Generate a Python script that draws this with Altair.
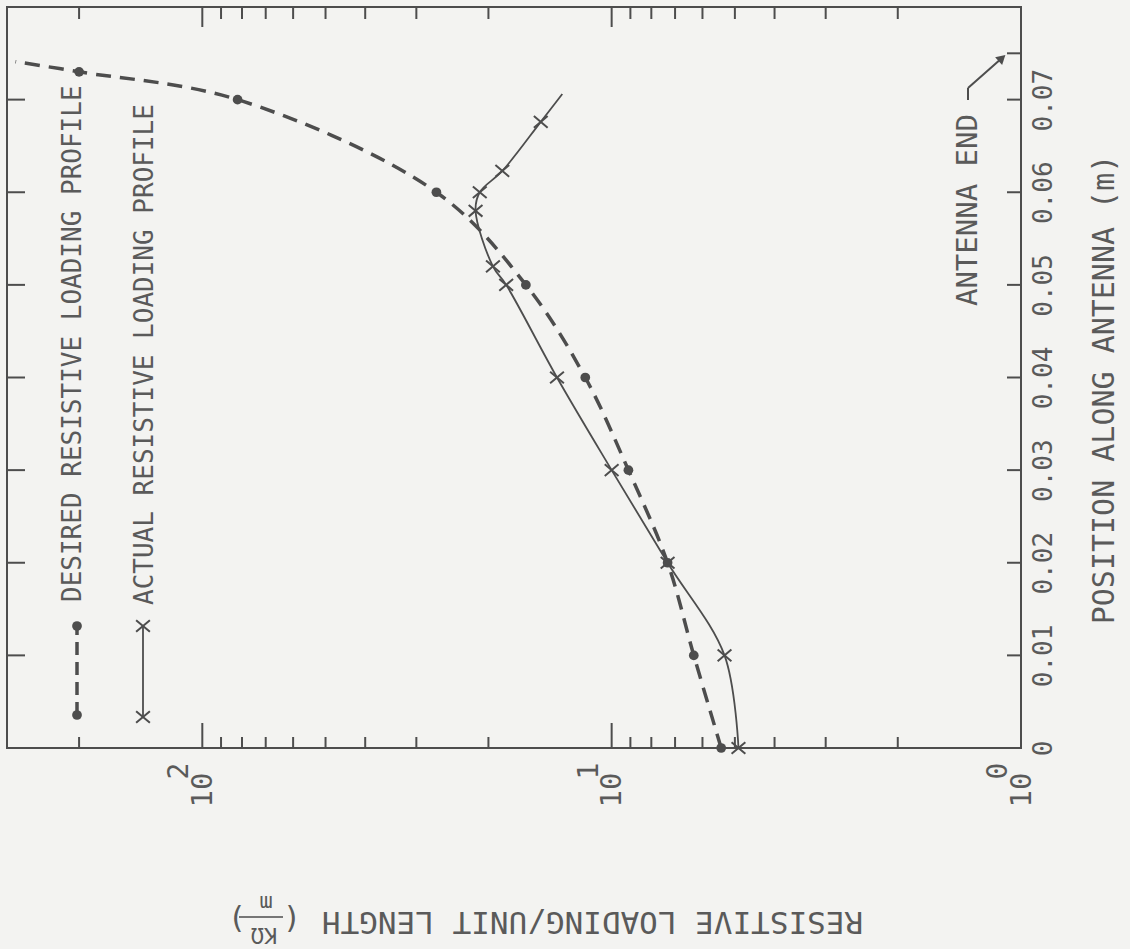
import altair as alt
import pandas as pd

INK = "#4d4d4d"
TEXT = "#5a5a5a"
FONT = "DejaVu Sans Mono"
W, H = 1014, 741  # plot area in px

# Desired resistive loading (kOhm/m) against position along the antenna (m)
desired_pos = [0.0, 0.01, 0.02, 0.03, 0.04, 0.05, 0.06, 0.07, 0.073]
desired_r = [5.4, 6.3, 7.3, 9.1, 11.6, 16.2, 26.8, 82.0, 200.0]
desired_tail_pos = [0.0741]   # dashed curve runs on to the frame
desired_tail_r = [286.0]

# Actual (measured) resistive loading
actual_pos = [0.0, 0.01, 0.02, 0.03, 0.04, 0.05, 0.052, 0.058, 0.060, 0.0623, 0.0676]
actual_r = [4.9, 5.3, 7.3, 10.0, 13.6, 18.1, 19.5, 21.5, 21.0, 18.5, 14.9]
actual_tail_pos = [0.0706]
actual_tail_r = [13.2]

# Axis ticks and labels
pos_ticks = [0.0, 0.01, 0.02, 0.03, 0.04, 0.05, 0.06, 0.07]
antenna_end = [0.075]
decades = [1, 10, 100]
decade_exponents = ["0", "1", "2"]
log_major = [10, 100]
log_minor = [2, 3, 4, 5, 6, 7, 8, 9, 20, 30, 40, 50, 60, 70, 80, 90, 200]

xs = alt.Scale(type="log", domain=[1, 300], reverse=True, nice=False)
ys = alt.Scale(domain=[0, 0.08], nice=False, zero=False)

desired = pd.DataFrame({"pos": desired_pos, "r": desired_r})
desired_curve = pd.concat([desired, pd.DataFrame({"pos": desired_tail_pos, "r": desired_tail_r})])
actual = pd.DataFrame({"pos": actual_pos, "r": actual_r})
actual_curve = pd.concat([actual, pd.DataFrame({"pos": actual_tail_pos, "r": actual_tail_r})])

x_axis = alt.Axis(
    orient="bottom", values=decades, labelExpr="'10'", labelAngle=270,
    labelAlign="right", labelBaseline="middle", labelFont=FONT, labelFontSize=29,
    labelColor=TEXT, labelPadding=24, labelFlush=False, labelOverlap=False,
    ticks=False, tickSize=0, domain=False, grid=False,
    title="RESISTIVE LOADING/UNIT LENGTH", titleAngle=180, titleX=585, titleY=172,
    titleAlign="center", titleBaseline="middle", titleFont=FONT, titleFontSize=31,
    titleFontWeight="normal", titleColor=TEXT,
)
y_axis = alt.Axis(
    orient="right", values=pos_ticks,
    labelExpr="datum.value == 0 ? '0' : format(datum.value, '.2f')",
    labelAngle=270, labelAlign="center", labelBaseline="top", labelFont=FONT,
    labelFontSize=26, labelColor=TEXT, labelPadding=9, labelFlush=False, labelOverlap=False,
    ticks=False, tickSize=0, domain=False, grid=False,
    title="POSITION ALONG ANTENNA (m)", titleAngle=270, titleX=83, titleY=382,
    titleAlign="center", titleBaseline="middle", titleFont=FONT, titleFontSize=30,
    titleFontWeight="normal", titleColor=TEXT,
)


def xq(field):
    return alt.X(f"{field}:Q", scale=xs, axis=x_axis)


def yq(field):
    return alt.Y(f"{field}:Q", scale=ys, axis=y_axis)


X_SHAPE = "M-1,-0.85L1,0.85M-1,0.85L1,-0.85"

desired_line = alt.Chart(desired_curve).mark_line(
    color=INK, strokeWidth=3.5, strokeDash=[15, 9], interpolate="catmull-rom", clip=True
).encode(x=xq("r"), y=yq("pos"), order="pos:Q")
desired_dots = alt.Chart(desired).mark_circle(color=INK, size=95, opacity=1).encode(
    x=xq("r"), y=yq("pos")
)
actual_line = alt.Chart(actual_curve).mark_line(
    color=INK, strokeWidth=1.8, interpolate="catmull-rom", clip=True
).encode(x=xq("r"), y=yq("pos"), order="pos:Q")
actual_marks = alt.Chart(actual).mark_point(
    shape=X_SHAPE, size=190, strokeWidth=2, color=INK, filled=False, opacity=1
).encode(x=xq("r"), y=yq("pos"))


# Inward-pointing frame ticks
def x_ticks(values, y0, y1):
    return alt.Chart(pd.DataFrame({"r": values})).mark_rule(color=INK, strokeWidth=2).encode(
        x=xq("r"), y=alt.value(y0), y2=alt.value(y1)
    )


def y_ticks(values, x0, x1):
    return alt.Chart(pd.DataFrame({"pos": values})).mark_rule(color=INK, strokeWidth=2).encode(
        y=yq("pos"), x=alt.value(x0), x2=alt.value(x1)
    )


ticks = [
    x_ticks(log_major, H, H - 25),
    x_ticks(log_minor, H, H - 11),
    x_ticks(log_major, 0, 20),
    x_ticks(log_minor, 0, 12),
    y_ticks(pos_ticks[1:], 0, 18),
    y_ticks(pos_ticks[1:] + antenna_end, W, W - 14),
]

# Decade exponents, raised beside each "10"
exponents = alt.Chart(pd.DataFrame({"r": decades, "e": decade_exponents})).mark_text(
    angle=270, font=FONT, fontSize=28, color=TEXT, align="center", baseline="middle", xOffset=-22
).encode(x=xq("r"), y=alt.value(764), text="e:N")

ONE = alt.Data(values=[{}])


def note(text, x, y, angle, size, align="center", baseline="middle"):
    return alt.Chart(ONE).mark_text(
        text=text, angle=angle, font=FONT, fontSize=size, color=TEXT, align=align, baseline=baseline
    ).encode(x=alt.value(x), y=alt.value(y))


def seg(x1, y1, x2, y2, width, dash=None):
    kw = {"strokeDash": dash} if dash else {}
    return alt.Chart(ONE).mark_rule(color=INK, strokeWidth=width, **kw).encode(
        x=alt.value(x1), y=alt.value(y1), x2=alt.value(x2), y2=alt.value(y2)
    )


def dot(x, y):
    return alt.Chart(ONE).mark_circle(color=INK, size=95, opacity=1).encode(
        x=alt.value(x), y=alt.value(y)
    )


def cross(x, y):
    return alt.Chart(ONE).mark_point(
        shape=X_SHAPE, size=190, strokeWidth=2, color=INK, filled=False, opacity=1
    ).encode(x=alt.value(x), y=alt.value(y))


# Unit fraction after the horizontal-axis title (kOhm over m), turned with the title
unit = [
    note("(", 285, 911, 180, 30),
    note(")", 230, 911, 180, 30),
    note("KΩ", 257, 928, 180, 22),
    note("m", 259, 896, 180, 22),
    seg(232, 910, 276, 910, 1.5),
]

# Key
key = [
    seg(70, 708, 70, 619, 3.5, [13, 7]),
    dot(70, 708),
    dot(70, 619),
    note("DESIRED RESISTIVE LOADING PROFILE", 66, 595, 270, 26, align="left"),
    seg(136, 710, 136, 619, 1.8),
    cross(136, 710),
    cross(136, 619),
    note("ACTUAL RESISTIVE LOADING PROFILE", 138, 598, 270, 26, align="left"),
]

# Antenna end callout
callout = [
    note("ANTENNA END", 961, 107, 270, 29, align="right"),
    seg(961, 93, 961, 81, 2),
    seg(961, 81, 995, 51, 2),
    alt.Chart(ONE).mark_point(
        shape="triangle-up", filled=True, size=110, angle=48, color=INK, opacity=1
    ).encode(x=alt.value(995), y=alt.value(51)),
]

chart = alt.layer(
    desired_line, actual_line, desired_dots, actual_marks, exponents,
    *ticks, *unit, *key, *callout
).properties(
    width=W, height=H, autosize="none",
    padding={"left": 7, "top": 7, "right": 109, "bottom": 201},
    background="#f3f3f1",
).configure_view(stroke=INK, strokeWidth=2)

chart.save("out.html", embed_options={"renderer": "svg", "actions": False})
